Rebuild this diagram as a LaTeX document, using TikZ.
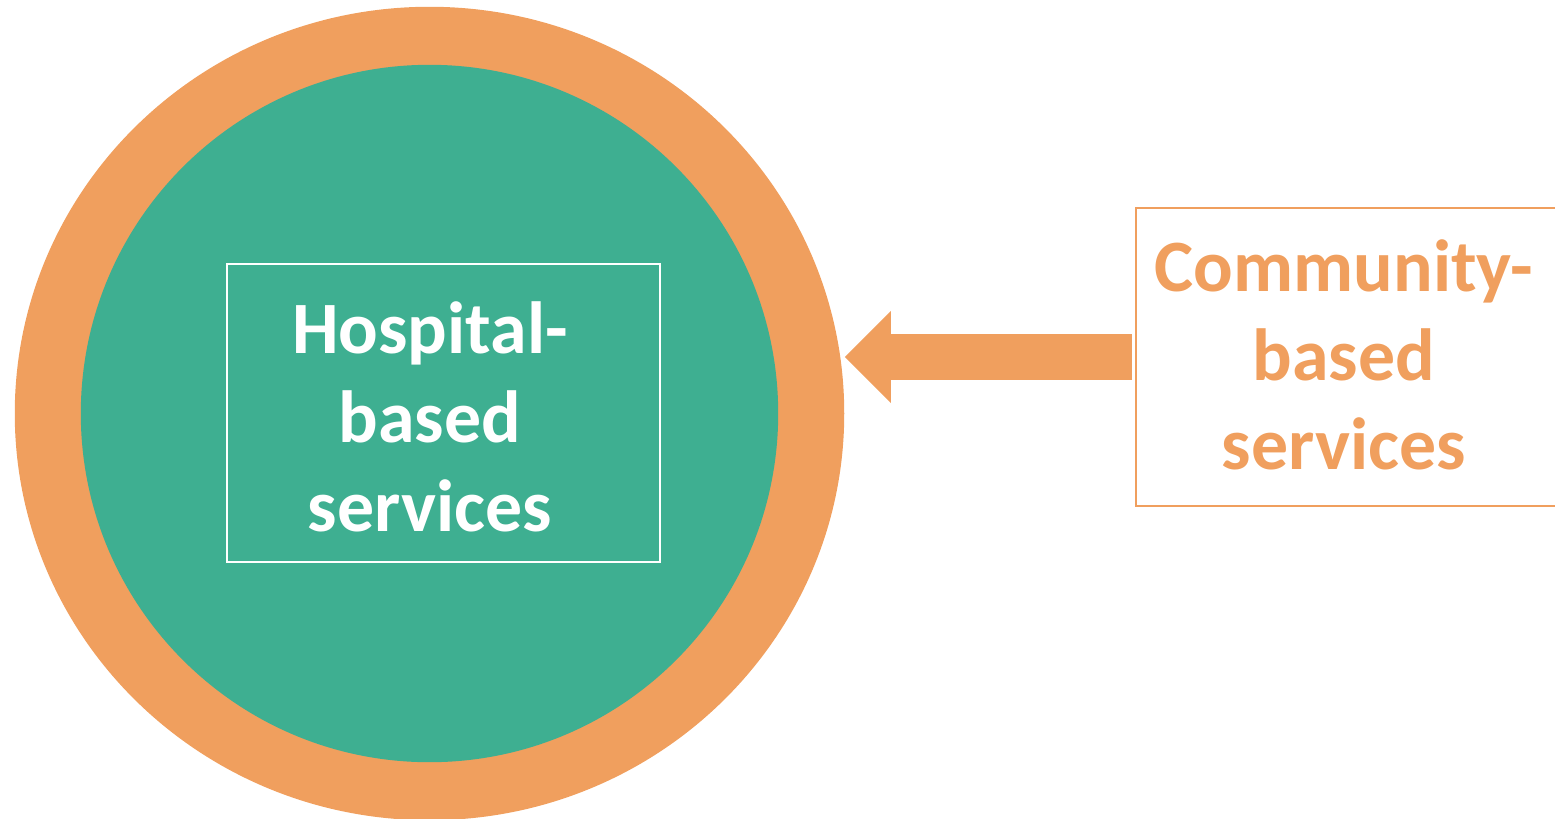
\documentclass[tikz,border=0pt]{standalone}
\usepackage{fontspec}
\setmainfont{Carlito}
\usetikzlibrary{shapes.geometric,arrows.meta}
\definecolor{ringorange}{RGB}{240,159,94}
\definecolor{coregreen}{RGB}{62,175,145}
\begin{document}
\begin{tikzpicture}[x=0.01cm,y=-0.01cm,
bigtext/.style={align=center,inner sep=0pt,font=\bfseries\fontsize{21}{25.3}\selectfont},
boxframe/.style={draw=#1,line width=0.6pt,minimum width=4.33cm,minimum height=2.98cm,inner sep=0pt},
bigarrow/.style={draw=ringorange,line width=0.46cm,-{Triangle[width=0.92cm,length=0.46cm,line width=0pt]}}]
\useasboundingbox (0,0) rectangle (1555,818);
\clip (0,0) rectangle (1555,818);
\node[ellipse,fill=ringorange,minimum width=8.29cm,minimum height=8.13cm,inner sep=0pt] (ring) at (429.5,413.5) {};
\node[circle,fill=coregreen,minimum size=6.97cm,inner sep=0pt] (core) at (ring.center) {};
\node[boxframe=white] (hbox) at (443.5,413) {};
\node[bigtext,text=white] (htext) at (430,416.5) {Hospital-\\based\\services};
\node[boxframe=ringorange,minimum width=4.5cm,anchor=west] (cbox) at (1135,357) {};
\node[bigtext,text=ringorange] (ctext) at (1344,355) {Community-\\based\\services};
\draw[bigarrow,shorten <=0.03cm] (cbox.west) -- (cbox.west -| ring.east);
\end{tikzpicture}
\end{document}
